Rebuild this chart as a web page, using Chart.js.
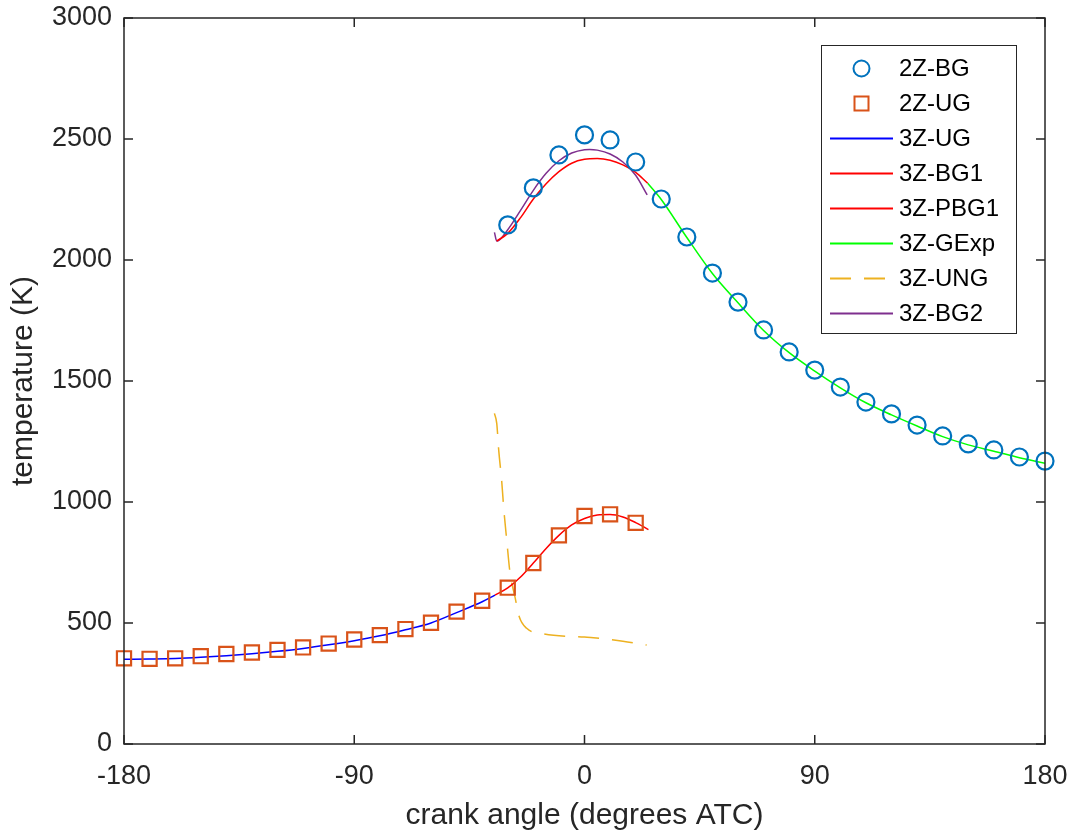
<!DOCTYPE html>
<html>
<head>
<meta charset="utf-8">
<script src="https://cdn.jsdelivr.net/npm/chart.js@4"></script>
<style>
  html, body { margin: 0; padding: 0; background: #fff; }
  #wrap { width: 1067px; height: 836px; }
</style>
</head>
<body>
<div id="wrap"><canvas id="tempChart" width="1067" height="836"></canvas></div>
<script>
// 2-zone model points
const angleBG = [-30, -20, -10, 0, 10, 20, 30, 40, 50, 60, 70, 80, 90, 100, 110, 120, 130, 140, 150, 160, 170, 180];
const tempBG = [2145, 2298, 2434, 2517, 2496, 2405, 2252, 2095, 1946, 1826, 1711, 1620, 1545, 1475, 1413, 1364, 1318, 1273, 1240, 1215, 1186, 1169];
const angleUG = [-180, -170, -160, -150, -140, -130, -120, -110, -100, -90, -80, -70, -60, -50, -40, -30, -20, -10, 0, 10, 20];
const tempUG = [354, 352, 354, 363, 372, 378, 389, 399, 415, 432, 450, 475, 501, 547, 592, 646, 748, 862, 942, 949, 914];

// 3-zone model curves
const angle3UG = [-180, -170, -160, -150, -140, -130, -120, -110, -100, -90, -80, -70, -60, -50, -40, -35];
const temp3UG = [350, 351, 353, 358, 365, 373, 383, 395, 410, 427, 447, 472, 500, 543, 588, 615];
const angle3BG1 = [-34.3, -30, -25, -20, -15, -10, -5, 0, 5, 10, 15, 20, 24.7];
const temp3BG1 = [2078, 2110, 2175, 2252, 2315, 2365, 2400, 2416, 2419, 2412, 2393, 2362, 2317];
const angle3PBG1 = [-35, -30, -25, -20, -15, -10, -5, 0, 5, 10, 15, 20, 25];
const temp3PBG1 = [615, 645, 690, 748, 808, 862, 905, 932, 946, 948, 938, 915, 886];
const angle3GExp = [24.7, 30, 40, 50, 60, 70, 80, 90, 100, 110, 120, 130, 140, 150, 160, 170, 180];
const temp3GExp = [2317, 2250, 2093, 1944, 1823, 1709, 1617, 1541, 1472, 1410, 1360, 1314, 1270, 1236, 1210, 1183, 1160];
const angle3UNG = [-35.2, -34.3, -33.5, -32.4, -31.5, -30.4, -29.1, -27.2, -25.5, -22.6, -16, 0, 3.5, 15, 24.3];
const temp3UNG = [1366, 1325, 1210, 1091, 965, 843, 706, 609, 526, 478, 455, 442, 439, 425, 409];
const angle3BG2 = [-35.2, -34.3, -30, -25, -20, -15, -10, -5, 0, 2, 5, 10, 15, 20, 24.5];
const temp3BG2 = [2114, 2078, 2125, 2205, 2288, 2358, 2410, 2442, 2456, 2457, 2454, 2438, 2405, 2350, 2269];

const xTicks = [-180, -90, 0, 90, 180];
const yTicks = [0, 500, 1000, 1500, 2000, 2500, 3000];

function pts(xs, ys) {
    return xs.map(function (x, i) { return { x: x, y: ys[i] }; });
}

const FONT = '"Liberation Sans", Arial, sans-serif';
const AXIS_COLOR = '#262626';

function lineSet(label, xs, ys, color, dash) {
    return {
        label: label,
        data: pts(xs, ys),
        showLine: true,
        borderColor: color,
        backgroundColor: color,
        borderWidth: 1.5,
        borderDash: dash || [],
        pointRadius: 0,
        pointHoverRadius: 0,
        cubicInterpolationMode: 'monotone',
    };
}

// box, inward ticks and the framed legend, MATLAB style
const matlabAxes = {
    id: 'matlabAxes',
    afterDatasetsDraw: function (chart) {
        const ctx = chart.ctx;
        const a = chart.chartArea;
        const xs = chart.scales.x, ys = chart.scales.y;
        const tl = 9;
        ctx.save();
        ctx.strokeStyle = AXIS_COLOR;
        ctx.lineWidth = 1.5;
        ctx.strokeRect(a.left, a.top, a.right - a.left, a.bottom - a.top);
        ctx.beginPath();
        xTicks.forEach(function (v) {
            const px = xs.getPixelForValue(v);
            ctx.moveTo(px, a.bottom); ctx.lineTo(px, a.bottom - tl);
            ctx.moveTo(px, a.top); ctx.lineTo(px, a.top + tl);
        });
        yTicks.forEach(function (v) {
            const py = ys.getPixelForValue(v);
            ctx.moveTo(a.left, py); ctx.lineTo(a.left + tl, py);
            ctx.moveTo(a.right, py); ctx.lineTo(a.right - tl, py);
        });
        ctx.stroke();

        // legend
        const bx = a.right - 224, by = a.top + 27, bw = 195, bh = 288;
        ctx.fillStyle = '#fff';
        ctx.fillRect(bx, by, bw, bh);
        ctx.lineWidth = 1;
        ctx.strokeStyle = AXIS_COLOR;
        ctx.strokeRect(bx + 0.5, by + 0.5, bw, bh);
        ctx.font = '24px ' + FONT;
        ctx.textBaseline = 'middle';
        ctx.textAlign = 'left';
        chart.data.datasets.forEach(function (ds, i) {
            const cy = by + 23.5 + i * 35;
            const x0 = bx + 9, x1 = bx + 72;
            if (ds.showLine) {
                ctx.beginPath();
                ctx.setLineDash(ds.borderDash || []);
                ctx.strokeStyle = ds.borderColor;
                ctx.lineWidth = 2;
                ctx.moveTo(x0, cy); ctx.lineTo(x1, cy);
                ctx.stroke();
                ctx.setLineDash([]);
            } else {
                ctx.strokeStyle = ds.borderColor;
                ctx.lineWidth = 2;
                ctx.beginPath();
                if (ds.pointStyle === 'rect') {
                    ctx.rect((x0 + x1) / 2 - 7, cy - 7, 14, 14);
                } else {
                    ctx.arc((x0 + x1) / 2, cy, 8, 0, Math.PI * 2);
                }
                ctx.stroke();
            }
            ctx.fillStyle = '#000';
            ctx.fillText(ds.label, bx + 78, cy + 1);
        });
        ctx.restore();
    },
};

new Chart(document.getElementById('tempChart'), {
    type: 'scatter',
    data: {
        datasets: [
            {
                label: '2Z-BG',
                data: pts(angleBG, tempBG),
                pointStyle: 'circle',
                pointRadius: 8.5,
                pointBorderWidth: 2.2,
                borderColor: '#0072BD',
                backgroundColor: 'rgba(0,0,0,0)',
                clip: false,
            },
            {
                label: '2Z-UG',
                data: pts(angleUG, tempUG),
                pointStyle: 'rect',
                pointRadius: 10,
                pointBorderWidth: 2.2,
                borderColor: '#D95319',
                backgroundColor: 'rgba(0,0,0,0)',
                clip: false,
            },
            lineSet('3Z-UG', angle3UG, temp3UG, '#0000FF'),
            lineSet('3Z-BG1', angle3BG1, temp3BG1, '#FF0000'),
            lineSet('3Z-PBG1', angle3PBG1, temp3PBG1, '#FF0000'),
            lineSet('3Z-GExp', angle3GExp, temp3GExp, '#00FF00'),
            lineSet('3Z-UNG', angle3UNG, temp3UNG, '#EDB120', [21, 13]),
            lineSet('3Z-BG2', angle3BG2, temp3BG2, '#7E2F8E'),
        ],
    },
    options: {
        responsive: false,
        animation: false,
        devicePixelRatio: 1,
        layout: { padding: { top: 18, right: 22, left: 0, bottom: 0 } },
        plugins: {
            legend: { display: false },
            tooltip: { enabled: false },
        },
        scales: {
            x: {
                type: 'linear',
                min: -180,
                max: 180,
                afterBuildTicks: function (scale) {
                    scale.ticks = xTicks.map(function (v) { return { value: v }; });
                },
                afterFit: function (scale) {
                    scale.height = 92;
                    scale.paddingLeft = 0;
                    scale.paddingRight = 0;
                },
                grid: { display: false, drawTicks: false },
                border: { display: false },
                ticks: {
                    color: AXIS_COLOR,
                    padding: 16,
                    maxRotation: 0,
                    font: { family: FONT, size: 27 },
                    callback: function (v) { return String(v); },
                },
                title: {
                    display: true,
                    text: 'crank angle (degrees ATC)',
                    color: AXIS_COLOR,
                    padding: { top: 0, bottom: 2 },
                    font: { family: FONT, size: 30 },
                },
            },
            y: {
                type: 'linear',
                min: 0,
                max: 3000,
                afterBuildTicks: function (scale) {
                    scale.ticks = yTicks.map(function (v) { return { value: v }; });
                },
                afterFit: function (scale) {
                    scale.width = 124;
                    scale.paddingTop = 0;
                    scale.paddingBottom = 0;
                },
                grid: { display: false, drawTicks: false },
                border: { display: false },
                ticks: {
                    color: AXIS_COLOR,
                    padding: 12,
                    font: { family: FONT, size: 27 },
                    callback: function (v) { return String(v); },
                },
                title: {
                    display: true,
                    text: 'temperature (K)',
                    color: AXIS_COLOR,
                    padding: { top: 6, bottom: 0 },
                    font: { family: FONT, size: 30 },
                },
            },
        },
    },
    plugins: [matlabAxes],
});
</script>
</body>
</html>
